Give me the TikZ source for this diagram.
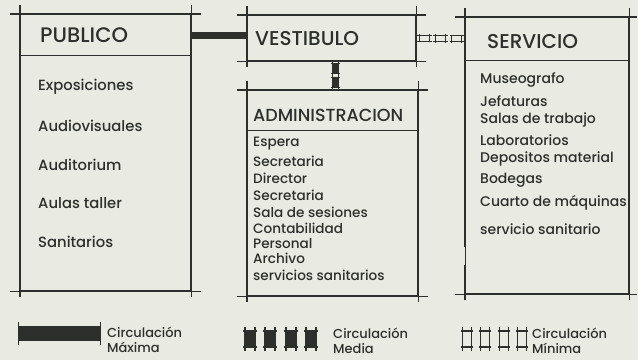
\documentclass[tikz,border=0pt]{standalone}
\usepackage{fontspec}
\setmainfont{Poppins}[UprightFont=* Medium, BoldFont=* SemiBold]
\usetikzlibrary{calc}
\definecolor{ink}{RGB}{44,47,43}
\definecolor{paper}{RGB}{233,235,226}
\tikzset{
  wall/.style={draw=ink, line width=1.4pt},
  room/.style={draw=ink, line width=1.2pt, inner sep=0pt, anchor=north west},
  hdr/.style={anchor=west, text=ink, inner sep=0pt, font=\fontsize{20}{22}\selectfont},
  item/.style={anchor=west, text=ink, inner sep=0pt, font=\fontsize{14.8}{16}\selectfont},
  subitem/.style={anchor=west, text=ink, inner sep=0pt, font=\fontsize{13.6}{15}\selectfont},
  keytext/.style={anchor=west, text=ink, inner sep=0pt, align=left, font=\fontsize{13}{15.5}\selectfont},
  maxcirc/.style={draw=ink, line width=7pt},
  minsym/.pic={
    \draw[ink, line width=1.1pt] (-7,-8) -- (7,-8) (-7,8) -- (7,8) (-5,-12) -- (-5,12) (5,-12) -- (5,12);
  },
  medsym/.pic={
    \fill[ink] (-6,-9) rectangle (6,9);
    \draw[ink, line width=1.4pt] (-7,-8) -- (7,-8) (-7,8) -- (7,8) (-5,-12) -- (-5,12) (5,-12) -- (5,12);
  }
}
\begin{document}
\begin{tikzpicture}[x=1pt,y=-1pt]
  \fill[paper] (0,0) rectangle (638,360);
  \useasboundingbox (0,0) rectangle (638,360);

  % zonas
  \node[room, minimum width=170pt, minimum height=41pt] (pubh) at (20,14) {};
  \node[room, minimum width=170pt, minimum height=235pt] (pubb) at (20,55) {};
  \node[room, minimum width=168pt, minimum height=45pt] (vesh) at (247,15) {};
  \node[room, minimum width=170pt, minimum height=40pt] (admh) at (247,90) {};
  \node[room, minimum width=170pt, minimum height=165pt] (admb) at (247,130) {};
  \node[room, minimum width=163pt, minimum height=43pt] (serh) at (465,17) {};
  \node[room, minimum width=163pt, minimum height=233pt] (serb) at (465,60) {};

  % trazo a mano alzada
  \foreach \t/\b in {pubh/pubb, vesh/vesh, admh/admb}{
    \draw[wall] ([xshift=-10pt]\t.north west) -- ([xshift=10pt]\t.north east);
    \draw[wall] ([xshift=-10pt]\b.south west) -- ([xshift=10pt]\b.south east);
    \draw[wall] ([yshift=9pt]\t.north west) -- ([yshift=-6pt]\b.south west);
    \draw[wall] ([yshift=9pt]\t.north east) -- ([yshift=-6pt]\b.south east);
  }
  \draw[wall] ([xshift=-10pt]serh.north west) -- ([xshift=8pt]serh.north east);
  \draw[wall] ([xshift=-10pt]serb.south west) -- ([xshift=8pt]serb.south east);
  \draw[wall] ([yshift=9pt]serh.north west) -- (serb.west |- 0,247);
  \draw[wall] (serb.west |- 0,265) -- ([yshift=-6pt]serb.south west);
  \draw[wall] ([yshift=9pt]serh.north east) -- ([yshift=-6pt]serb.south east);

  \node[hdr, font=\fontsize{21}{23}\selectfont] (pubt) at (40,35) {PUBLICO};
  \node[hdr] (vest) at (255,39) {VESTIBULO};
  \node[hdr, font=\fontsize{17.5}{19}\selectfont] (admt) at (253,115) {ADMINISTRACION};
  \node[hdr] (sert) at (487,42) {SERVICIO};

  \foreach \t [count=\i] in {Exposiciones, Audiovisuales, Auditorium, Aulas taller, Sanitarios}
    \node[item] (pub\i) at (38,{87+38.8*(\i-1)}) {\t};

  \foreach \y/\t [count=\i] in {144/Espera, 161/Secretaria, 178/Director, 195/Secretaria,
      212/Sala de sesiones, 228/Contabilidad, 244/Personal, 258/Archivo, 275/servicios sanitarios}
    \node[subitem] (adm\i) at (253,\y) {\t};

  \foreach \y/\t [count=\i] in {80/Museografo, 101/Jefaturas, 120/Salas de trabajo, 140/Laboratorios,
      159/Depositos material, 180/Bodegas, 203/Cuarto de máquinas, 229/servicio sanitario}
    \node[subitem, font=\fontsize{14}{16}\selectfont] (ser\i) at (480,\y) {\t};

  % circulaciones
  \draw[maxcirc] (pubh.east) -- (pubh.east -| vesh.west);
  \foreach \s in {0.17,0.5,0.83}
    \pic[scale=0.6, rotate=90] at ($(vesh.east)!\s!(serh.west)$) {minsym};
  \foreach \s in {0.26,0.74}
    \pic[scale=0.62] at ($([xshift=4pt]vesh.south)!\s!([xshift=3pt]admh.north)$) {medsym};

  % simbologia
  \fill[ink] (18,326) rectangle (100,341);
  \draw[ink, line width=1pt] (18,322) -- (18,345) (100,322) -- (100,345);
  \node[keytext] (keymax) at (107,340) {Circulación\\Máxima};
  \foreach \x in {250,270,291,311}
    \pic at (\x,339) {medsym};
  \node[keytext] (keymed) at (333,341) {Circulación\\Media};
  \foreach \x in {467,485,504,522}
    \pic[xscale=0.85] at (\x,339) {minsym};
  \node[keytext] (keymin) at (532,341) {Circulación\\Mínima};
\end{tikzpicture}
\end{document}
